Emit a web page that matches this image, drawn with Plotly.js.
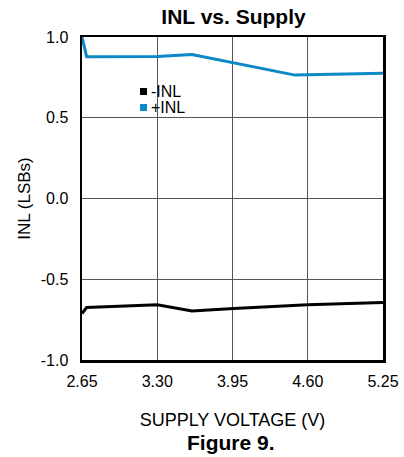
<!DOCTYPE html>
<html>
<head>
<meta charset="utf-8">
<script src="https://cdn.plot.ly/plotly-3.0.1.min.js"></script>
<style>html,body{margin:0;padding:0;background:#fff;}#chart{width:404px;height:457px;}</style>
</head>
<body>
<div id="chart"></div>
<script>
// Data
const supplyPlus = [2.65, 2.69, 3.30, 3.60, 4.49, 5.25];
const inlPlus    = [1.00, 0.878, 0.880, 0.892, 0.764, 0.775];
const supplyMinus = [2.65, 2.69, 3.30, 3.60, 3.96, 4.60, 5.25];
const inlMinus    = [-0.712, -0.675, -0.658, -0.696, -0.681, -0.658, -0.644];
const xTickVals = [2.65, 3.30, 3.95, 4.60, 5.25];
const xTickText = ["2.65", "3.30", "3.95", "4.60", "5.25"];
const yTickVals = [-1, -0.5, 0, 0.5, 1];
const yTickText = ["-1.0", "-0.5", "0.0", "0.5", "1.0"];
const seriesNames = ["-INL", "+INL"];

const FONT = "Liberation Sans, Arial, Helvetica, sans-serif";
const BLUE = "#0a88c8";
const seriesColors = ["#000000", BLUE];

const W = 404, H = 457;
const M = {l: 82, r: 21, t: 37, b: 97};
const PW = W - M.l - M.r, PH = H - M.t - M.b;
const px2x = p => (p - M.l) / PW;
const px2y = p => (H - M.b - p) / PH;

const traces = [
  {x: supplyMinus, y: inlMinus, name: seriesNames[0], mode: "lines", line: {color: seriesColors[0], width: 3}, showlegend: false, hoverinfo: "skip", cliponaxis: false},
  {x: supplyPlus, y: inlPlus, name: seriesNames[1], mode: "lines", line: {color: seriesColors[1], width: 3}, showlegend: false, hoverinfo: "skip", cliponaxis: false}
];

// Legend (drawn as a box, key squares and text, to match the reference's compact spacing)
const legendRowY = [91.5, 107.5];
const shapes = [
  {type: "rect", xref: "paper", yref: "paper", x0: px2x(137), x1: px2x(195), y0: px2y(118.5), y1: px2y(81.5),
   fillcolor: "#fff", line: {width: 0}, layer: "between"}
];
const annotations = [];
seriesNames.forEach((n, i) => {
  shapes.push({type: "rect", xref: "paper", yref: "paper", x0: px2x(140), x1: px2x(147),
               y0: px2y(legendRowY[i] + 3.5), y1: px2y(legendRowY[i] - 3.5),
               fillcolor: seriesColors[i], line: {width: 0}, layer: "above"});
  annotations.push({text: n, xref: "paper", yref: "paper", x: px2x(150), y: px2y(legendRowY[i] - 0.5),
                    xanchor: "left", yanchor: "middle", valign: "middle", height: 16, borderpad: 0, showarrow: false,
                    font: {family: FONT, size: 16, color: "#000"}});
});
annotations.push({text: "<b>Figure 9.</b>", xref: "paper", yref: "paper", x: 0.495, y: -0.2539, xanchor: "center", yanchor: "middle",
                  showarrow: false, font: {family: FONT, size: 21, color: "#000"}});

const layout = {
  width: W, height: H,
  margin: M,
  paper_bgcolor: "#fff", plot_bgcolor: "#fff",
  font: {family: FONT, color: "#000", size: 16},
  showlegend: false,
  title: {text: "<b>INL vs. Supply</b>", font: {family: FONT, size: 21, color: "#000"}, x: 0.578, xanchor: "center", y: 0.963, yanchor: "middle", yref: "container"},
  xaxis: {
    range: [2.65, 5.25], tickmode: "array", tickvals: xTickVals, ticktext: xTickText,
    showgrid: true, gridcolor: "#555", gridwidth: 1, zeroline: false,
    showline: true, mirror: true, linecolor: "#000", linewidth: 2.5,
    ticks: "", ticklabelstandoff: 5,
    tickfont: {family: FONT, size: 16, color: "#000"},
    title: {text: "SUPPLY VOLTAGE (V)", font: {family: FONT, size: 18, color: "#000"}, standoff: 25}
  },
  yaxis: {
    range: [-1, 1], tickmode: "array", tickvals: yTickVals, ticktext: yTickText,
    showgrid: true, gridcolor: "#555", gridwidth: 1, zeroline: false,
    showline: true, mirror: true, linecolor: "#000", linewidth: 2.5,
    ticks: "", ticklabelstandoff: 8,
    tickfont: {family: FONT, size: 16, color: "#000"},
    title: {text: "INL (LSBs)", font: {family: FONT, size: 17, color: "#000"}, standoff: 6}
  },
  shapes: shapes,
  annotations: annotations
};

Plotly.newPlot("chart", traces, layout, {staticPlot: true, displayModeBar: false});
</script>
</body>
</html>
